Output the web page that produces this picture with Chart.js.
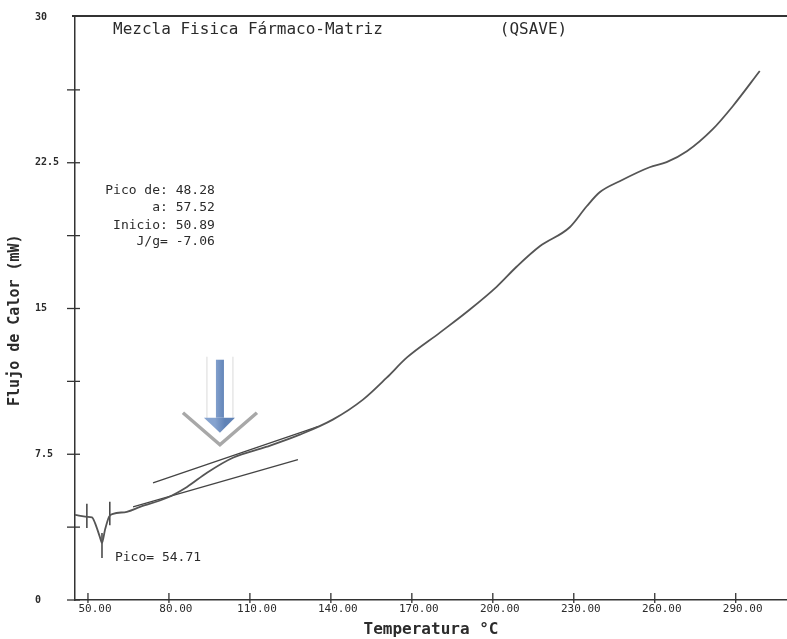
<!DOCTYPE html>
<html lang="es">
<head>
<meta charset="utf-8">
<title>Mezcla Fisica Fármaco-Matriz (QSAVE)</title>
<script src="https://cdn.jsdelivr.net/npm/chart.js@4.4.1/dist/chart.umd.min.js"></script>
<style>
    html, body { margin: 0; padding: 0; background: #fff; }
    #wrap { width: 787px; height: 639px; position: relative; }
</style>
</head>
<body>
<div id="wrap"><canvas id="dsc-chart"></canvas></div>
<script>
// =================================================================
// DSC THERMOGRAM - Mezcla Fisica Fármaco-Matriz
// =================================================================

// Curve (temperature °C / heat flow mW)
const temperatures = [45.2, 49.6, 51.5, 52.6, 54.4, 55.2, 56.3, 57.8, 59.3, 64.4, 69.3, 79.3, 86.7, 94.1,
    103.7, 116.3, 128.5, 140.7, 151.9, 160.7, 168.1, 180.4, 191.5, 201.5, 208.9, 217.4, 228.5,
    234.8, 239.6, 247.0, 258.1, 264.4, 271.9, 281.5, 288.9, 298.9];
const heatFlow = [4.38, 4.28, 4.25, 3.97, 3.25, 2.94, 3.6, 4.28, 4.43, 4.54, 4.79, 5.26, 5.82, 6.55,
    7.32, 7.89, 8.51, 9.28, 10.31, 11.44, 12.47, 13.76, 14.95, 16.13, 17.16, 18.20, 19.18,
    20.26, 20.98, 21.55, 22.27, 22.53, 23.09, 24.23, 25.41, 27.22];

// Tangent lines drawn over the glass transition
const upperTangentX = [74.1, 135.2];
const upperTangentY = [6.03, 8.92];
const lowerTangentX = [66.7, 127.8];
const lowerTangentY = [4.79, 7.22];

// Integration limits and peak markers
const markerX = [49.6, 58.1, 55.2];
const markerTop = [4.95, 5.05, 3.45];
const markerBottom = [3.7, 3.85, 2.16];

// Axis ticks
const xTicks = [50, 80, 110, 140, 170, 200, 230, 260, 290];
const yTicks = [0, 3.75, 7.5, 11.25, 15, 18.75, 22.5, 26.25, 30];
const yLabelled = [0, 7.5, 15, 22.5, 30];

const MONO = '"DejaVu Sans Mono", "Liberation Mono", monospace';
const INK = '#2b2b2b';

function pairs(xs, ys) {
    return xs.map((x, i) => ({ x: x, y: ys[i] }));
}

function buildDatasets() {
    const datasets = [{
        data: pairs(temperatures, heatFlow),
        borderColor: '#555',
        borderWidth: 1.8,
        pointRadius: 0,
        cubicInterpolationMode: 'monotone'
    }, {
        data: pairs(upperTangentX, upperTangentY),
        borderColor: '#444',
        borderWidth: 1.3,
        pointRadius: 0
    }, {
        data: pairs(lowerTangentX, lowerTangentY),
        borderColor: '#444',
        borderWidth: 1.3,
        pointRadius: 0
    }];

    markerX.forEach((x, i) => {
        datasets.push({
            data: [{ x: x, y: markerTop[i] }, { x: x, y: markerBottom[i] }],
            borderColor: '#333',
            borderWidth: 1.4,
            pointRadius: 0
        });
    });
    return datasets;
}

// Texts, tick marks, frame and the highlighting arrow
const decorPlugin = {
    id: 'decor',
    afterDraw(chart) {
        const ctx = chart.ctx;
        const area = chart.chartArea;
        const xs = chart.scales.x;
        const ys = chart.scales.y;

        ctx.save();
        ctx.strokeStyle = '#333';

        // top frame line
        ctx.lineWidth = 2;
        ctx.beginPath();
        ctx.moveTo(area.left - 3, area.top - 1);
        ctx.lineTo(area.right, area.top - 1);
        ctx.stroke();

        // tick marks crossing the axes
        ctx.lineWidth = 1.3;
        xTicks.forEach(v => {
            const px = xs.getPixelForValue(v);
            ctx.beginPath();
            ctx.moveTo(px, area.bottom - 7);
            ctx.lineTo(px, area.bottom + 3);
            ctx.stroke();
        });
        yTicks.slice(0, -1).forEach(v => {
            const py = ys.getPixelForValue(v);
            ctx.beginPath();
            ctx.moveTo(area.left - 8, py);
            ctx.lineTo(area.left + 5, py);
            ctx.stroke();
        });

        // y axis title
        ctx.fillStyle = INK;
        ctx.font = 'bold 15px ' + MONO;
        ctx.textAlign = 'center';
        ctx.textBaseline = 'middle';
        ctx.translate(15, ys.getPixelForValue(14.4));
        ctx.rotate(-Math.PI / 2);
        ctx.fillText('Flujo de Calor (mW)', 0, 0);
        ctx.restore();

        ctx.save();
        ctx.fillStyle = INK;
        ctx.textBaseline = 'middle';

        // header
        ctx.font = '16px ' + MONO;
        ctx.textAlign = 'left';
        ctx.fillText('Mezcla Fisica Fármaco-Matriz', xs.getPixelForValue(59.3), ys.getPixelForValue(29.33));
        ctx.fillText('(QSAVE)', xs.getPixelForValue(202.6), ys.getPixelForValue(29.33));

        // peak integration results
        ctx.font = '13px ' + MONO;
        ctx.textAlign = 'right';
        const resultLines = ['Pico de: 48.28', 'a: 57.52', 'Inicio: 50.89', 'J/g= -7.06'];
        const resultY = [21.08, 20.2, 19.28, 18.45];
        resultLines.forEach((t, i) => {
            ctx.fillText(t, xs.getPixelForValue(97.0), ys.getPixelForValue(resultY[i]));
        });
        ctx.textAlign = 'left';
        ctx.fillText('Pico= 54.71', xs.getPixelForValue(60.0), ys.getPixelForValue(2.16));
        ctx.restore();

        drawArrow(ctx, xs.getPixelForValue(98.9), ys.getPixelForValue(7.99));
    }
};

function drawArrow(ctx, x, tipY) {
    ctx.save();
    // pale guide lines beside the shaft
    ctx.strokeStyle = '#dadada';
    ctx.lineWidth = 1;
    [-13, 13].forEach(dx => {
        ctx.beginPath();
        ctx.moveTo(x + dx, tipY - 88);
        ctx.lineTo(x + dx, tipY - 25);
        ctx.stroke();
    });

    // blue arrow
    const grad = ctx.createLinearGradient(x - 5, 0, x + 5, 0);
    grad.addColorStop(0, '#86a3cf');
    grad.addColorStop(1, '#5f82b6');
    ctx.fillStyle = grad;
    ctx.fillRect(x - 4, tipY - 85, 8, 58);
    ctx.beginPath();
    ctx.moveTo(x - 16, tipY - 27);
    ctx.lineTo(x + 15, tipY - 27);
    ctx.lineTo(x, tipY - 12);
    ctx.closePath();
    ctx.fill();

    // grey chevron
    ctx.strokeStyle = '#a8a8a8';
    ctx.lineWidth = 3.5;
    ctx.beginPath();
    ctx.moveTo(x - 37, tipY - 32);
    ctx.lineTo(x, tipY);
    ctx.lineTo(x + 37, tipY - 32);
    ctx.stroke();
    ctx.restore();
}

function renderChart() {
    new Chart(document.getElementById('dsc-chart').getContext('2d'), {
        type: 'line',
        data: { datasets: buildDatasets() },
        options: {
            responsive: true,
            maintainAspectRatio: false,
            animation: false,
            layout: { padding: { left: 35, top: 17, right: 0, bottom: 0 } },
            plugins: { legend: { display: false }, tooltip: { enabled: false } },
            scales: {
                x: {
                    type: 'linear',
                    min: 45.2,
                    max: 309,
                    grid: { display: false, drawTicks: false },
                    border: { display: true, color: '#333', width: 1.5 },
                    afterBuildTicks: scale => { scale.ticks = xTicks.map(v => ({ value: v })); },
                    afterFit: scale => { scale.height = 39; },
                    ticks: {
                        callback: v => v.toFixed(2),
                        font: { family: MONO, size: 11 },
                        color: INK,
                        padding: 3,
                        labelOffset: 7,
                        maxRotation: 0,
                        autoSkip: false
                    },
                    title: {
                        display: true,
                        text: 'Temperatura °C',
                        font: { family: MONO, size: 16, weight: 'bold' },
                        color: INK,
                        padding: { top: 0, bottom: 0 }
                    }
                },
                y: {
                    min: 0,
                    max: 30,
                    grid: { display: false, drawTicks: false },
                    border: { display: true, color: '#333', width: 1.5 },
                    afterBuildTicks: scale => { scale.ticks = yTicks.map(v => ({ value: v })); },
                    afterFit: scale => { scale.width = 40; },
                    ticks: {
                        callback: v => yLabelled.includes(v) ? String(v) : '',
                        font: { family: MONO, size: 10, weight: 'bold' },
                        color: INK,
                        crossAlign: 'far',
                        autoSkip: false
                    }
                }
            }
        },
        plugins: [decorPlugin]
    });
}

renderChart();
</script>
</body>
</html>
